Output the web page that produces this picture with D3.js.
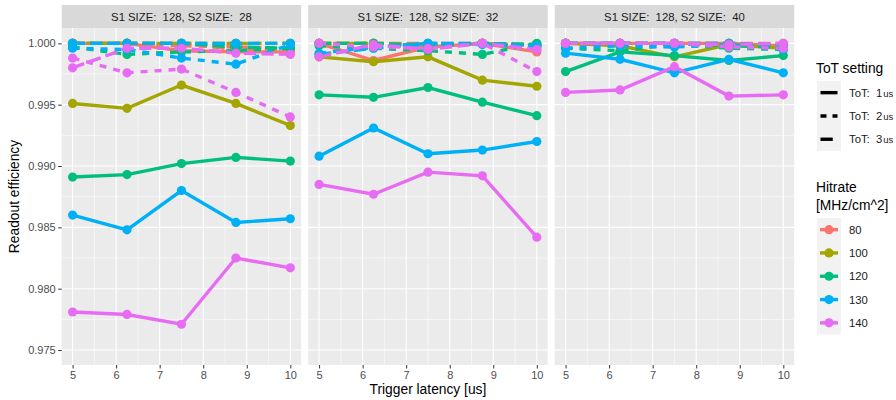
<!DOCTYPE html>
<html>
<head>
<meta charset="utf-8">
<script src="https://cdn.jsdelivr.net/npm/d3@7"></script>
<style>
  body { margin: 0; background: white; }
  text { font-family: "Liberation Sans", Arial, sans-serif; }
</style>
</head>
<body>
<div id="chart"></div>
<script>
// trigger latency values (x) and the facet / colour / linetype levels
const latency = [5, 6.25, 7.5, 8.75, 10];
const hitrates = [80, 100, 120, 130, 140];
const totSettings = [1, 2, 3];
const s2Sizes = [28, 32, 40];
const xTicks = [5, 6, 7, 8, 9, 10];
const yTicks = [0.975, 0.980, 0.985, 0.990, 0.995, 1.000];
const hitrateColors = ["#F8766D", "#A3A500", "#00BF7D", "#00B0F6", "#E76BF3"];

// readout efficiency, one row per hitrate (80,100,120,130,140)
// S2 SIZE 28
const eff28tot1 = [
  [1.0000, 1.0000, 0.9994, 0.9993, 0.9993],
  [0.9951, 0.9947, 0.9966, 0.9951, 0.9933],
  [0.9891, 0.9893, 0.9902, 0.9907, 0.9904],
  [0.9860, 0.9848, 0.9880, 0.9854, 0.9857],
  [0.9781, 0.9779, 0.9771, 0.9825, 0.9817]
];
const eff28tot2 = [
  [1.0000, 1.0000, 0.9998, 0.9997, 0.9996],
  [1.0000, 1.0000, 1.0000, 1.0000, 1.0000],
  [0.9997, 0.9991, 0.9993, 0.9994, 0.9996],
  [0.9996, 0.9995, 0.9988, 0.9983, 0.9999],
  [0.9988, 0.9976, 0.9979, 0.9960, 0.9940]
];
const eff28tot3 = [
  [1.0000, 1.0000, 1.0000, 0.9995, 0.9993],
  [1.0000, 1.0000, 1.0000, 1.0000, 1.0000],
  [1.0000, 1.0000, 1.0000, 0.9997, 0.9996],
  [1.0000, 1.0000, 1.0000, 1.0000, 1.0000],
  [0.9980, 0.9996, 0.9996, 0.9992, 0.9991]
];
// S2 SIZE 32
const eff32tot1 = [
  [1.0000, 0.9986, 0.9997, 1.0000, 0.9993],
  [0.9989, 0.9985, 0.9989, 0.9970, 0.9965],
  [0.9958, 0.9956, 0.9964, 0.9952, 0.9941],
  [0.9908, 0.9931, 0.9910, 0.9913, 0.9920],
  [0.9885, 0.9877, 0.9895, 0.9892, 0.9842]
];
const eff32tot2 = [
  [1.0000, 0.9998, 0.9996, 1.0000, 0.9995],
  [1.0000, 1.0000, 0.9998, 1.0000, 0.9998],
  [0.9998, 0.9996, 0.9994, 0.9991, 1.0000],
  [0.9992, 0.9997, 1.0000, 0.9999, 0.9997],
  [1.0000, 0.9997, 0.9996, 1.0000, 0.9977]
];
const eff32tot3 = [
  [1.0000, 1.0000, 1.0000, 1.0000, 0.9998],
  [1.0000, 1.0000, 0.9999, 1.0000, 0.9999],
  [1.0000, 1.0000, 0.9998, 1.0000, 0.9999],
  [0.9991, 0.9996, 1.0000, 1.0000, 0.9998],
  [0.9989, 0.9999, 0.9995, 1.0000, 0.9995]
];
// S2 SIZE 40
const eff40tot1 = [
  [1.0000, 1.0000, 1.0000, 1.0000, 0.9998],
  [1.0000, 0.9998, 0.9989, 0.9999, 0.9996],
  [0.9977, 0.9993, 0.9990, 0.9986, 0.9990],
  [0.9992, 0.9987, 0.9976, 0.9987, 0.9976],
  [0.9960, 0.9962, 0.9981, 0.9957, 0.9958]
];
const eff40tot2 = [
  [1.0000, 1.0000, 0.9999, 0.9998, 0.9998],
  [1.0000, 0.9998, 1.0000, 0.9999, 0.9997],
  [0.9996, 0.9994, 0.9999, 0.9996, 0.9995],
  [0.9996, 0.9998, 0.9997, 0.9999, 0.9995],
  [1.0000, 1.0000, 1.0000, 0.9997, 0.9996]
];
const eff40tot3 = [
  [1.0000, 1.0000, 1.0000, 1.0000, 1.0000],
  [1.0000, 1.0000, 1.0000, 1.0000, 0.9998],
  [1.0000, 1.0000, 1.0000, 0.9998, 0.9997],
  [1.0000, 1.0000, 1.0000, 1.0000, 0.9999],
  [1.0000, 1.0000, 1.0000, 0.9999, 1.0000]
];
const effByPanel = [
  [eff28tot1, eff28tot2, eff28tot3],
  [eff32tot1, eff32tot2, eff32tot3],
  [eff40tot1, eff40tot2, eff40tot3]
];

const width = 896, height = 400;
const svg = d3.select("#chart").append("svg").attr("width", width).attr("height", height);

// facet geometry
const panelW = 239.5, panelGap = 7;
const panelX0 = 61.7, panelTop = 28, panelBottom = 365, stripTop = 5;
const x = d3.scaleLinear().domain([4.75, 10.25]).range([0, panelW]);
const y = d3.scaleLinear().domain([0.97378, 1.00125]).range([panelBottom, panelTop]);
const color = d3.scaleOrdinal().domain(hitrates).range(hitrateColors);
const dashes = { 1: null, 2: "7,7", 3: "12.25,5.25" };
const line = d3.line().x((d, i) => x(latency[i])).y(d => y(d));

const xMinor = d3.range(5.5, 10, 1);
const yMinor = yTicks.slice(0, -1).map(v => v + 0.0025).concat([0.9725]);

s2Sizes.forEach((s2, p) => {
  const g = svg.append("g").attr("transform", `translate(${panelX0 + p * (panelW + panelGap)},0)`);

  // strip
  g.append("rect").attr("x", 0).attr("y", stripTop).attr("width", panelW).attr("height", panelTop - stripTop)
    .attr("fill", "#d9d9d9");
  g.append("text").attr("x", panelW / 2).attr("y", (stripTop + panelTop) / 2 + 4)
    .attr("text-anchor", "middle").attr("font-size", 11.3).attr("fill", "#1a1a1a")
    .style("white-space", "pre").text(`S1 SIZE:  128, S2 SIZE:  ${s2}`);

  // panel background and grid
  g.append("rect").attr("x", 0).attr("y", panelTop).attr("width", panelW).attr("height", panelBottom - panelTop)
    .attr("fill", "#ebebeb");
  g.selectAll(".ymin").data(yMinor.filter(v => y(v) > panelTop && y(v) < panelBottom)).enter().append("line")
    .attr("x1", 0).attr("x2", panelW).attr("y1", d => y(d)).attr("y2", d => y(d))
    .attr("stroke", "white").attr("stroke-width", 0.55);
  g.selectAll(".xmin").data(xMinor).enter().append("line")
    .attr("y1", panelTop).attr("y2", panelBottom).attr("x1", d => x(d)).attr("x2", d => x(d))
    .attr("stroke", "white").attr("stroke-width", 0.55);
  g.selectAll(".ymaj").data(yTicks).enter().append("line")
    .attr("x1", 0).attr("x2", panelW).attr("y1", d => y(d)).attr("y2", d => y(d))
    .attr("stroke", "white").attr("stroke-width", 1.1);
  g.selectAll(".xmaj").data(xTicks).enter().append("line")
    .attr("y1", panelTop).attr("y2", panelBottom).attr("x1", d => x(d)).attr("x2", d => x(d))
    .attr("stroke", "white").attr("stroke-width", 1.1);

  // lines, grouped by hitrate then ToT
  const series = [];
  hitrates.forEach((h, hi) => totSettings.forEach((t, ti) => {
    series.push({ hitrate: h, tot: t, values: effByPanel[p][ti][hi] });
  }));
  g.selectAll(".series").data(series).enter().append("path")
    .attr("d", d => line(d.values))
    .attr("fill", "none")
    .attr("stroke", d => color(d.hitrate))
    .attr("stroke-width", 3.4)
    .attr("stroke-dasharray", d => dashes[d.tot]);

  // points
  const pts = [];
  series.forEach(s => s.values.forEach((v, i) => pts.push({ hitrate: s.hitrate, x: latency[i], v: v })));
  g.selectAll(".pt").data(pts).enter().append("circle")
    .attr("cx", d => x(d.x)).attr("cy", d => y(d.v)).attr("r", 4.6)
    .attr("fill", d => color(d.hitrate));

  // x axis
  const xa = g.append("g").attr("transform", `translate(0,${panelBottom})`)
    .call(d3.axisBottom(x).tickValues(xTicks).tickSize(3.5).tickPadding(2.5).tickFormat(d3.format("d")));
  xa.select(".domain").remove();
  xa.selectAll("line").attr("stroke", "#333");
  xa.selectAll("text").attr("fill", "#4d4d4d").attr("font-size", 11)
    .attr("font-family", "Liberation Sans, Arial, sans-serif");

  // y axis only on the first panel
  if (p === 0) {
    const ya = g.append("g")
      .call(d3.axisLeft(y).tickValues(yTicks).tickSize(3.5).tickPadding(2.5).tickFormat(d3.format(".3f")));
    ya.select(".domain").remove();
    ya.selectAll("line").attr("stroke", "#333");
    ya.selectAll("text").attr("fill", "#4d4d4d").attr("font-size", 11)
      .attr("font-family", "Liberation Sans, Arial, sans-serif");
  }
});

// axis titles
svg.append("text").attr("x", panelX0 + (3 * panelW + 2 * panelGap) / 2).attr("y", 394)
  .attr("text-anchor", "middle").attr("font-size", 13.8).attr("fill", "black").text("Trigger latency [us]");
svg.append("text").attr("transform", `translate(19,${(panelTop + panelBottom) / 2}) rotate(-90)`)
  .attr("text-anchor", "middle").attr("font-size", 13.8).attr("fill", "black").text("Readout efficiency");

// legends
const lg = svg.append("g").attr("transform", "translate(816,0)");
const keyW = 24, keyH = 23.3;

lg.append("text").attr("x", 0).attr("y", 73).attr("font-size", 13.8).text("ToT setting");
lg.append("rect").attr("x", 1).attr("y", 81).attr("width", keyW).attr("height", keyH * 3).attr("fill", "#f2f2f2");
totSettings.forEach((t, i) => {
  const cy = 81 + keyH * (i + 0.5);
  lg.append("line").attr("x1", 4.5).attr("x2", keyW - 2.5).attr("y1", cy).attr("y2", cy)
    .attr("stroke", "black").attr("stroke-width", 3.4).attr("stroke-dasharray", t === 2 ? "6,6" : dashes[t]);
  const tx = lg.append("text").attr("x", 33).attr("y", cy + 4).attr("font-size", 11.3).attr("fill", "#1a1a1a")
    .style("white-space", "pre");
  tx.append("tspan").text(`ToT:  ${t}`);
  tx.append("tspan").attr("font-size", 9.5).attr("dx", 1).text("us");
});

lg.append("text").attr("x", 0).attr("y", 192).attr("font-size", 13.8).text("Hitrate");
lg.append("text").attr("x", 0).attr("y", 210).attr("font-size", 13.8).text("[MHz/cm^2]");
lg.append("rect").attr("x", 1).attr("y", 218).attr("width", keyW).attr("height", keyH * 5).attr("fill", "#f2f2f2");
hitrates.forEach((h, i) => {
  const cy = 218 + keyH * (i + 0.5);
  lg.append("line").attr("x1", 4).attr("x2", keyW - 2).attr("y1", cy).attr("y2", cy)
    .attr("stroke", color(h)).attr("stroke-width", 3.4);
  lg.append("circle").attr("cx", 1 + keyW / 2).attr("cy", cy).attr("r", 4.6).attr("fill", color(h));
  lg.append("text").attr("x", 33).attr("y", cy + 4).attr("font-size", 11.3).attr("fill", "#1a1a1a").text(h);
});
</script>
</body>
</html>
